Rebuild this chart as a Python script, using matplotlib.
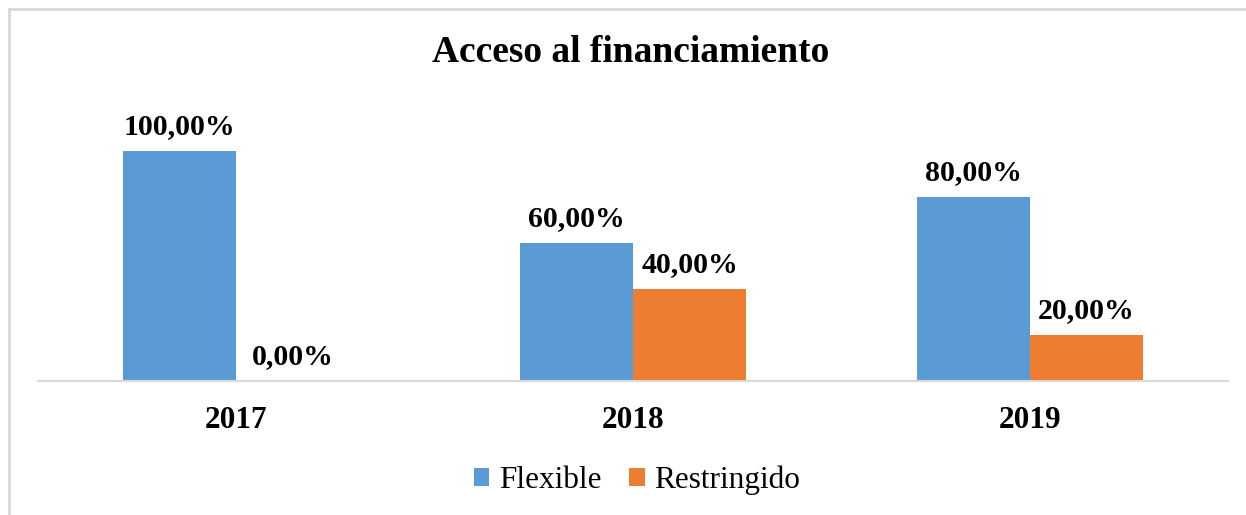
import numpy as np
import matplotlib.pyplot as plt
from matplotlib.lines import Line2D

years = ["2017", "2018", "2019"]
flexible = [1.00, 0.60, 0.80]
restringido = [0.00, 0.40, 0.20]

blue = "#5b9bd5"
orange = "#ed7d31"

plt.rcParams["font.family"] = ["Liberation Serif", "DejaVu Serif"]

fig = plt.figure(figsize=(12.46, 5.15), dpi=100)
ax = fig.add_axes([38 / 1246, 134 / 515, 1190 / 1246, 300 / 515])

x = np.arange(len(years))
w = 0.285
b1 = ax.bar(x - w / 2, flexible, w, color=blue, label="Flexible")
b2 = ax.bar(x + w / 2, restringido, w, color=orange, label="Restringido")

def pct(v):
    return f"{v * 100:.2f}%".replace(".", ",")

for bars, vals in ((b1, flexible), (b2, restringido)):
    for rect, v in zip(bars, vals):
        ax.annotate(pct(v), (rect.get_x() + rect.get_width() / 2, v),
                    xytext=(0, 8), textcoords="offset points",
                    ha="center", va="bottom", fontsize=21.5, fontweight="bold")

ax.set_xlim(-0.5, 2.5)
ax.set_ylim(0, 300 / 230)
ax.set_xticks(x)
ax.set_xticklabels(years, fontsize=22.5, fontweight="bold")
ax.tick_params(axis="x", length=0, pad=18)
ax.set_yticks([])
for s in ("left", "right", "top"):
    ax.spines[s].set_visible(False)
ax.spines["bottom"].set_color("#d9d9d9")
ax.spines["bottom"].set_linewidth(1.5)

fig.text(631 / 1246, 1 - 52 / 515, "Acceso al financiamiento",
         ha="center", va="center", fontsize=27, fontweight="bold")

fig.legend(handles=[b1, b2], loc="center", bbox_to_anchor=(637 / 1246, 1 - 480 / 515),
           ncol=2, frameon=False, fontsize=22.5, handlelength=0.5, handleheight=0.5,
           handletextpad=0.3, columnspacing=0.9)

# chart area outline (top and left edges)
fig.add_artist(Line2D([9 / 1246, 9 / 1246], [0, 1 - 9 / 515], transform=fig.transFigure,
                      color="#d9d9d9", lw=2))
fig.add_artist(Line2D([9 / 1246, 1], [1 - 9 / 515, 1 - 9 / 515], transform=fig.transFigure,
                      color="#d9d9d9", lw=2))

fig.savefig("out.png", dpi=100, facecolor="white")
